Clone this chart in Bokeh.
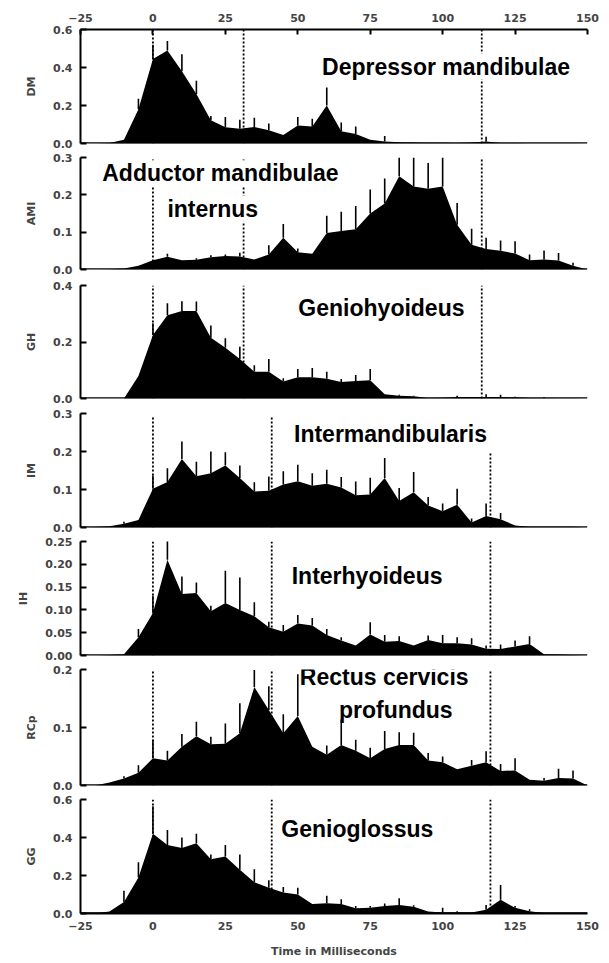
from bokeh.plotting import figure
from bokeh.layouts import column
from bokeh.models import FixedTicker, NumeralTickFormatter, Label, Span, Range1d
from bokeh.embed import file_html
from bokeh.resources import INLINE

# sample times (ms)
t = [-25, -20, -15, -10, -5, 0, 5, 10, 15, 20, 25, 30, 35, 40, 45, 50, 55, 60,
     65, 70, 75, 80, 85, 90, 95, 100, 105, 110, 115, 120, 125, 130, 135, 140, 145, 150]
x_ticks = [-25, 0, 25, 50, 75, 100, 125, 150]

# event markers (dotted lines), ms
markers_upper = [0, 31.3, 113.5]
markers_lower = [0, 41, 116.5]

dm_mean = [0, 0, 0.003, 0.02, 0.18, 0.445, 0.49, 0.38, 0.26, 0.123, 0.085, 0.078, 0.087, 0.07, 0.045, 0.095, 0.09, 0.2,
           0.065, 0.05, 0.02, 0.01, 0.006, 0.005, 0.004, 0.004, 0.003, 0.005, 0.01, 0.003, 0.002, 0.001, 0.001, 0.001, 0.001, 0]
dm_upper = [0, 0, 0.003, 0.02, 0.235, 0.52, 0.54, 0.47, 0.33, 0.145, 0.14, 0.125, 0.135, 0.105, 0.045, 0.14, 0.13, 0.295,
            0.11, 0.09, 0.02, 0.04, 0.006, 0.005, 0.004, 0.004, 0.003, 0.005, 0.035, 0.003, 0.002, 0.001, 0.001, 0.001, 0.001, 0]

ami_mean = [0, 0, 0.001, 0.003, 0.01, 0.025, 0.034, 0.025, 0.026, 0.033, 0.036, 0.035, 0.027, 0.04, 0.085, 0.046, 0.042, 0.098,
            0.103, 0.108, 0.15, 0.177, 0.25, 0.222, 0.216, 0.222, 0.12, 0.066, 0.055, 0.05, 0.043, 0.025, 0.027, 0.024, 0.01, 0]
ami_upper = [0, 0, 0.001, 0.003, 0.01, 0.025, 0.042, 0.025, 0.03, 0.038, 0.04, 0.045, 0.027, 0.065, 0.122, 0.056, 0.042, 0.144,
             0.155, 0.17, 0.214, 0.244, 0.3, 0.3, 0.285, 0.3, 0.178, 0.109, 0.085, 0.078, 0.076, 0.04, 0.051, 0.044, 0.018, 0]

gh_mean = [0, 0, 0, 0, 0.08, 0.225, 0.295, 0.31, 0.31, 0.215, 0.18, 0.14, 0.095, 0.095, 0.06, 0.075, 0.075, 0.07,
           0.058, 0.062, 0.065, 0.015, 0.01, 0.008, 0.002, 0.003, 0.005, 0.005, 0.005, 0.005, 0.004, 0.002, 0.002, 0.001, 0.001, 0]
gh_upper = [0, 0, 0, 0, 0.08, 0.266, 0.337, 0.344, 0.343, 0.258, 0.213, 0.183, 0.118, 0.14, 0.072, 0.104, 0.108, 0.095,
            0.069, 0.083, 0.104, 0.015, 0.013, 0.01, 0.002, 0.003, 0.01, 0.005, 0.015, 0.013, 0.006, 0.002, 0.004, 0.001, 0.001, 0]

im_mean = [0, 0.001, 0.003, 0.01, 0.02, 0.102, 0.12, 0.18, 0.135, 0.143, 0.163, 0.13, 0.095, 0.097, 0.113, 0.122, 0.11, 0.115,
           0.105, 0.085, 0.087, 0.13, 0.07, 0.093, 0.058, 0.043, 0.06, 0.013, 0.03, 0.022, 0.005, 0.002, 0.002, 0.002, 0.002, 0]
im_upper = [0, 0.001, 0.003, 0.015, 0.02, 0.137, 0.156, 0.226, 0.173, 0.2, 0.198, 0.163, 0.119, 0.134, 0.148, 0.165, 0.143, 0.152,
            0.133, 0.121, 0.131, 0.183, 0.104, 0.146, 0.08, 0.063, 0.102, 0.024, 0.063, 0.038, 0.005, 0.002, 0.002, 0.002, 0.002, 0]

ih_mean = [0, 0, 0.001, 0.003, 0.04, 0.093, 0.21, 0.135, 0.137, 0.097, 0.115, 0.1, 0.086, 0.062, 0.052, 0.07, 0.066, 0.045,
           0.033, 0.022, 0.046, 0.03, 0.032, 0.022, 0.034, 0.027, 0.027, 0.024, 0.015, 0.014, 0.02, 0.025, 0.003, 0.002, 0.001, 0]
ih_upper = [0, 0, 0.001, 0.003, 0.058, 0.131, 0.251, 0.173, 0.16, 0.109, 0.186, 0.171, 0.117, 0.074, 0.067, 0.089, 0.082, 0.058,
            0.04, 0.022, 0.073, 0.045, 0.042, 0.022, 0.044, 0.045, 0.04, 0.038, 0.022, 0.024, 0.033, 0.042, 0.003, 0.002, 0.001, 0]

rcp_mean = [0, 0, 0.005, 0.012, 0.022, 0.047, 0.043, 0.067, 0.085, 0.071, 0.072, 0.09, 0.17, 0.13, 0.09, 0.12, 0.067, 0.053,
            0.07, 0.06, 0.047, 0.063, 0.07, 0.07, 0.043, 0.04, 0.028, 0.034, 0.04, 0.025, 0.026, 0.01, 0.008, 0.013, 0.012, 0]
rcp_upper = [0, 0, 0.005, 0.016, 0.035, 0.079, 0.06, 0.089, 0.11, 0.084, 0.107, 0.142, 0.199, 0.171, 0.123, 0.192, 0.067, 0.069,
             0.114, 0.079, 0.065, 0.094, 0.092, 0.091, 0.056, 0.05, 0.028, 0.044, 0.059, 0.037, 0.047, 0.01, 0.013, 0.029, 0.026, 0]

gg_mean = [0, 0, 0.01, 0.06, 0.19, 0.42, 0.36, 0.345, 0.37, 0.285, 0.3, 0.23, 0.165, 0.135, 0.11, 0.1, 0.05, 0.054,
           0.05, 0.028, 0.03, 0.04, 0.045, 0.035, 0.01, 0.005, 0.005, 0.005, 0.02, 0.072, 0.03, 0.012, 0.003, 0.002, 0.002, 0]
gg_upper = [0, 0, 0.01, 0.12, 0.27, 0.565, 0.44, 0.40, 0.42, 0.31, 0.36, 0.31, 0.233, 0.175, 0.14, 0.136, 0.05, 0.093,
            0.075, 0.04, 0.04, 0.052, 0.08, 0.044, 0.01, 0.03, 0.012, 0.005, 0.045, 0.15, 0.04, 0.023, 0.003, 0.002, 0.002, 0]

FONT = "Liberation Sans"
AXFONT = "DejaVu Sans"

panels = [
    dict(name="DM", mean=dm_mean, upper=dm_upper, ymax=0.6, yticks=[0, 0.2, 0.4, 0.6], fmt="0.0",
         markers=markers_upper, mtops=[0.6, 0.6, 0.6], bg="white",
         titles=[("Depressor mandibulae", 58.4, 0.405)], h=150, top=29, bot=7, xaxis="above"),
    dict(name="AMI", mean=ami_mean, upper=ami_upper, ymax=0.3, yticks=[0, 0.1, 0.2, 0.3], fmt="0.0",
         markers=markers_upper, mtops=[0.3, 0.3, 0.3], bg="white",
         titles=[("Adductor mandibulae", -17.5, 0.258), ("internus", 5.0, 0.163)], h=127, top=7, bot=8, xaxis=None),
    dict(name="GH", mean=gh_mean, upper=gh_upper, ymax=0.4, yticks=[0, 0.2, 0.4], fmt="0.0",
         markers=markers_upper, mtops=[0.4, 0.4, 0.4], bg=None,
         titles=[("Geniohyoideus", 50.2, 0.322)], h=128, top=8, bot=7, xaxis=None),
    dict(name="IM", mean=im_mean, upper=im_upper, ymax=0.3, yticks=[0, 0.1, 0.2, 0.3], fmt="0.0",
         markers=markers_lower, mtops=[0.29, 0.29, 0.2], bg=None,
         titles=[("Intermandibularis", 48.7, 0.247)], h=129, top=8, bot=7, xaxis=None),
    dict(name="IH", mean=ih_mean, upper=ih_upper, ymax=0.25, yticks=[0, 0.05, 0.1, 0.15, 0.2, 0.25], fmt="0.00",
         markers=markers_lower, mtops=[0.25, 0.25, 0.25], bg=None,
         titles=[("Interhyoideus", 47.9, 0.175)], h=128, top=7, bot=7, xaxis=None),
    dict(name="RCp", mean=rcp_mean, upper=rcp_upper, ymax=0.2, yticks=[0, 0.1, 0.2], fmt="0.0",
         markers=markers_lower, mtops=[0.2, 0.2, 0.2], bg=None,
         titles=[("Rectus cervicis", 50.7, 0.187), ("profundus", 64.2, 0.131)], h=130, top=7, bot=7, xaxis=None),
    dict(name="GG", mean=gg_mean, upper=gg_upper, ymax=0.6, yticks=[0, 0.2, 0.4, 0.6], fmt="0.0",
         markers=markers_lower, mtops=[0.6, 0.6, 0.6], bg=None,
         titles=[("Genioglossus", 44.3, 0.443)], h=171, top=7, bot=50, xaxis="below"),
]

x_range = Range1d(-25, 150)
figs = []
for pn in panels:
    p = figure(width=609, height=pn["h"], x_range=x_range, y_range=Range1d(0, pn["ymax"]),
               output_backend="svg", toolbar_location=None, x_axis_location=pn["xaxis"],
               min_border_left=80, min_border_right=22, min_border_top=pn["top"], min_border_bottom=pn["bot"])
    p.outline_line_color = None
    p.xgrid.visible = False
    p.ygrid.visible = False
    p.background_fill_color = "white"
    p.border_fill_color = "white"

    # filled mean trace
    p.varea(x=t, y1=[0] * len(t), y2=pn["mean"], fill_color="black")
    # error bars
    p.segment(x0=t, y0=pn["mean"], x1=t, y1=pn["upper"], line_color="black", line_width=1.6)
    # event markers
    p.segment(x0=pn["markers"], y0=[0] * len(pn["markers"]), x1=pn["markers"], y1=pn["mtops"],
              line_color="black", line_width=1.8, line_dash="2 2")
    # baseline
    p.add_layout(Span(location=0, dimension="width", line_color="black", line_width=2.5))

    for txt, xx, yy in pn["titles"]:
        p.add_layout(Label(x=xx, y=yy, text=txt, text_font=FONT, text_font_style="bold",
                           text_font_size="23px", text_baseline="middle", text_color="black",
                           background_fill_color=pn["bg"]))

    ya = p.yaxis[0]
    ya.ticker = FixedTicker(ticks=pn["yticks"])
    ya.formatter = NumeralTickFormatter(format=pn["fmt"])
    ya.axis_label = pn["name"]
    ya.axis_label_text_font = AXFONT
    ya.axis_label_text_font_style = "bold"
    ya.axis_label_text_font_size = "11px"
    ya.axis_label_standoff = 12
    ya.major_label_text_font = AXFONT
    ya.major_label_text_font_style = "bold"
    ya.major_label_text_font_size = "11px"
    ya.major_label_standoff = 8
    ya.major_tick_in = 6
    ya.major_tick_out = 0
    ya.minor_tick_line_color = None
    ya.axis_line_width = 2
    ya.major_tick_line_width = 2

    if pn["xaxis"] is not None:
        xa = p.xaxis[0]
        xa.ticker = FixedTicker(ticks=x_ticks)
        xa.major_label_text_font = AXFONT
        xa.major_label_text_font_style = "bold"
        xa.major_label_text_font_size = "11px"
        xa.major_label_standoff = 8
        xa.minor_tick_line_color = None
        xa.axis_line_width = 2
        xa.major_tick_line_width = 2
        xa.major_tick_out = 0
        if pn["xaxis"] == "above":
            xa.major_tick_in = 5
        else:
            xa.major_tick_in = 0
            xa.axis_label = "Time in Milliseconds"
            xa.axis_label_text_font = AXFONT
            xa.axis_label_text_font_style = "bold"
            xa.axis_label_text_font_size = "11px"
            xa.axis_label_standoff = 12
    figs.append(p)

layout = column(*figs, spacing=0)
open("out.html", "w").write(file_html(layout, INLINE))
